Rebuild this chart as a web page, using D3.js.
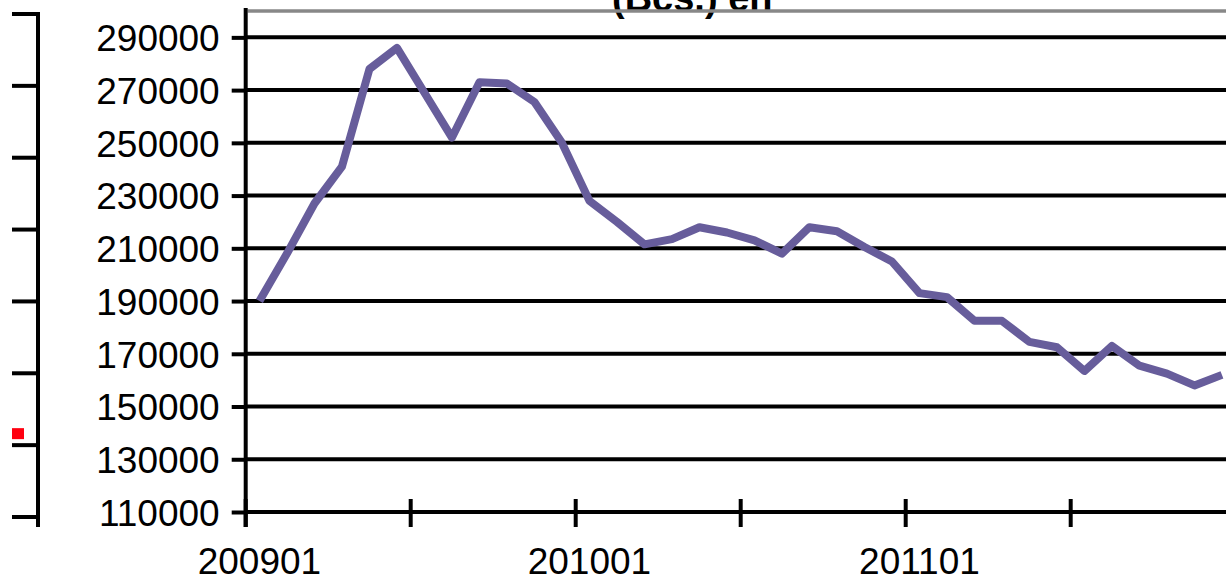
<!DOCTYPE html>
<html>
<head>
<meta charset="utf-8">
<script src="https://cdn.jsdelivr.net/npm/d3@7"></script>
<style>
  html, body { margin: 0; padding: 0; background: #fff; }
  svg { display: block; }
  text { font-family: "Liberation Sans", Arial, sans-serif; }
</style>
</head>
<body>
<svg id="chart" width="1226" height="579"></svg>
<script>
// ---- data ----
const months = [
  "200901","200902","200903","200904","200905","200906","200907","200908","200909","200910","200911","200912",
  "201001","201002","201003","201004","201005","201006","201007","201008","201009","201010","201011","201012",
  "201101","201102","201103","201104","201105","201106","201107","201108","201109","201110","201111","201112"
];
const values = [
  190000, 208000, 227000, 241000, 278000, 286000, 269000, 252000, 273000, 272500, 265500, 250000,
  228000, 220000, 211500, 213500, 218000, 216000, 213000, 208000, 218000, 216500, 210500, 205000,
  193000, 191500, 182500, 182500, 174500, 172500, 163500, 173000, 165500, 162500, 158000, 162000
];
const yTicks = [110000, 130000, 150000, 170000, 190000, 210000, 230000, 250000, 270000, 290000];
const xLabelMonths = ["200901", "201001", "201101"];
const titleText = "(Bcs.) en";
// remnant of a neighbouring chart on the left (axis ticks + one red marker)
const leftTicks = [0, 1, 2, 3, 4, 5, 6, 7];
const leftSeries = [1.16];

// ---- layout ----
const svg = d3.select("#chart");
const W = 1226;
const plotLeft = 245.7, band = 27.5;
const x = d3.scaleBand().domain(months).range([plotLeft, plotLeft + band * months.length]).paddingInner(0).paddingOuter(0);
const y = d3.scaleLinear().domain([110000, 300000]).range([512, 11]);

// title (cut off at top)
svg.append("text")
  .attr("x", 612).attr("y", 11)
  .attr("font-size", 38).attr("font-weight", "bold")
  .attr("fill", "#000")
  .text(titleText);

// top plot border (gray) at axis max
svg.append("line")
  .attr("x1", plotLeft + 2).attr("x2", W)
  .attr("y1", y(300000)).attr("y2", y(300000))
  .attr("stroke", "#888").attr("stroke-width", 3.5);

// gridlines
svg.append("g").selectAll("line").data(yTicks.filter(d => d > 110000)).join("line")
  .attr("x1", plotLeft).attr("x2", W)
  .attr("y1", d => y(d)).attr("y2", d => y(d))
  .attr("stroke", "#000").attr("stroke-width", 4);

// y axis
const yAxis = d3.axisLeft(y).tickValues(yTicks).tickSize(14).tickPadding(12).tickFormat(d3.format("d"));
const gy = svg.append("g").attr("transform", `translate(${plotLeft},0)`).call(yAxis);
gy.select(".domain").remove();
gy.selectAll(".tick line").attr("stroke", "#000").attr("stroke-width", 4);
gy.selectAll(".tick text").attr("font-size", 37).attr("fill", "#000").attr("dy", "0.36em");
svg.append("line")
  .attr("x1", plotLeft).attr("x2", plotLeft)
  .attr("y1", 8).attr("y2", 527)
  .attr("stroke", "#000").attr("stroke-width", 4);

// x axis
const tickMonths = months.filter((m, i) => i % 6 === 0);
svg.append("line")
  .attr("x1", plotLeft).attr("x2", W)
  .attr("y1", y(110000)).attr("y2", y(110000))
  .attr("stroke", "#000").attr("stroke-width", 4);
svg.append("g").selectAll("line").data(tickMonths).join("line")
  .attr("x1", d => x(d)).attr("x2", d => x(d))
  .attr("y1", y(110000) - 13).attr("y2", y(110000) + 15)
  .attr("stroke", "#000").attr("stroke-width", 4);
svg.append("g").selectAll("text").data(xLabelMonths).join("text")
  .attr("x", d => x(d) + x.bandwidth() / 2)
  .attr("y", 574)
  .attr("text-anchor", "middle")
  .attr("font-size", 37)
  .attr("fill", "#000")
  .text(d => d);

// data line
const line = d3.line()
  .x((d, i) => x(months[i]) + x.bandwidth() / 2)
  .y(d => y(d));
svg.append("path")
  .datum(values)
  .attr("d", line)
  .attr("fill", "none")
  .attr("stroke", "#675d9b")
  .attr("stroke-width", 8)
  .attr("stroke-linejoin", "round")
  .attr("stroke-linecap", "butt");

// left remnant axis
const yl = d3.scaleLinear().domain([0, 7]).range([517, 14]);
const xl = d3.scaleLinear().domain([0, 1]).range([12, 38]);
svg.append("line")
  .attr("x1", xl(1)).attr("x2", xl(1))
  .attr("y1", 12).attr("y2", 527)
  .attr("stroke", "#000").attr("stroke-width", 4);
svg.append("g").selectAll("line").data(leftTicks).join("line")
  .attr("x1", xl(0)).attr("x2", xl(1))
  .attr("y1", d => yl(d)).attr("y2", d => yl(d))
  .attr("stroke", "#000").attr("stroke-width", 4);
svg.append("g").selectAll("rect").data(leftSeries).join("rect")
  .attr("x", xl(0)).attr("y", d => yl(d) - 5.5)
  .attr("width", 12).attr("height", 11)
  .attr("fill", "#ff0010");
</script>
</body>
</html>
